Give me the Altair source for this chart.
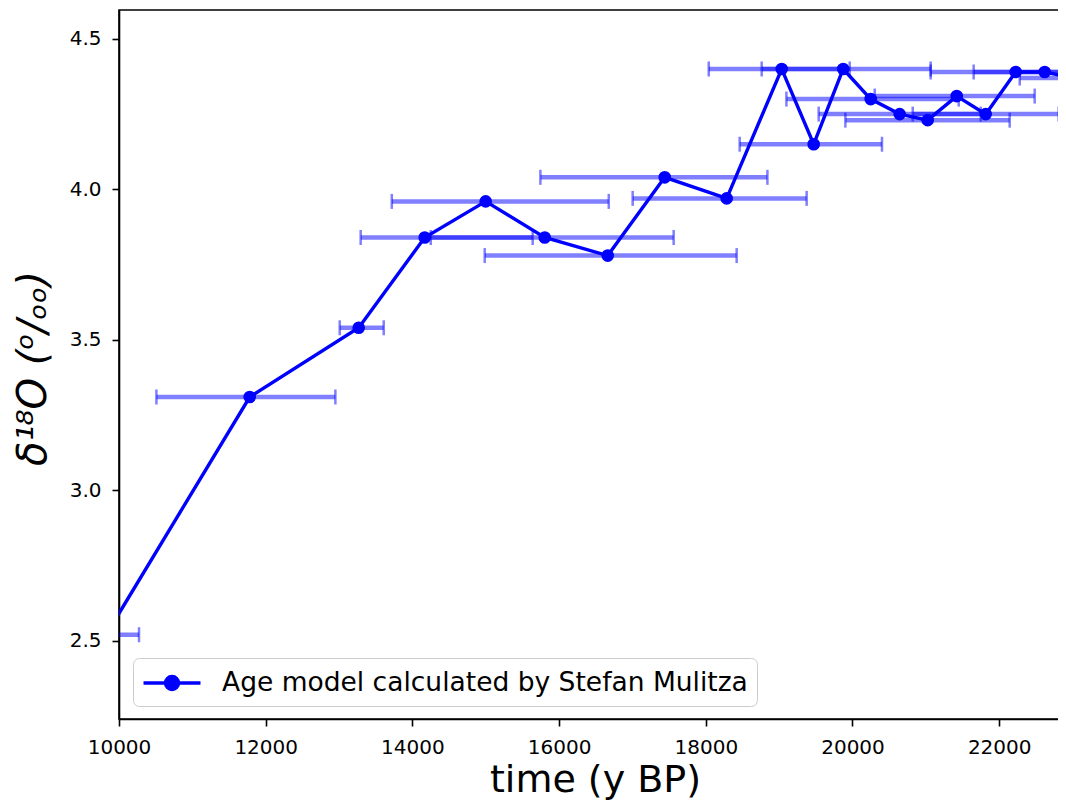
import altair as alt
import pandas as pd

# ---- data ----
ages = [9824, 11782, 13268, 14168, 14999, 15804, 16663, 17440, 18285, 19035,
        19471, 19873, 20248, 20643, 21025, 21421, 21816, 22225, 22620, 23015]
d18o = [2.52, 3.31, 3.54, 3.84, 3.96, 3.84, 3.78, 4.04, 3.97, 4.40,
        4.15, 4.40, 4.30, 4.25, 4.23, 4.31, 4.25, 4.39, 4.39, 4.37]
err_lo = [9381, 10510, 13009, 13295, 13719, 14250, 14986, 15745, 17003, 18040,
          18462, 18762, 19099, 19539, 19903, 20303, 20821, 21066, 21652, 22280]
err_hi = [10273, 12950, 13609, 15640, 16677, 17562, 18421, 18840, 19375, 19962,
          20402, 21066, 21448, 21748, 22143, 22484, 22811, 23384, 23589, 23750]
series_label = "Age model calculated by Stefan Mulitza"
x_ticks = [10000, 12000, 14000, 16000, 18000, 20000, 22000]
y_ticks = [2.5, 3.0, 3.5, 4.0, 4.5]
x_domain = [10000, 23088]
y_domain = [2.24, 4.596]

df = pd.DataFrame({"age": ages, "d18O": d18o, "lo": err_lo, "hi": err_hi,
                   "series": [series_label] * len(ages)})
caps = pd.DataFrame({"cap": err_lo + err_hi, "d18O": d18o + d18o})

FONT = "DejaVu Sans"
xscale = alt.Scale(domain=x_domain, nice=False, zero=False)
yscale = alt.Scale(domain=y_domain, nice=False, zero=False)

xaxis = alt.Axis(values=x_ticks, format="d", title="time (y BP)", labelFlush=False,
                 labelOverlap=False,
                 titleFontSize=38, titleFontWeight="normal", titleFont=FONT,
                 titleX=476, titleY=72, titleBaseline="alphabetic",
                 titleAnchor="start", titleAlign="center")
yaxis = alt.Axis(values=y_ticks, format=".1f", title="δ¹⁸O  (ᵒ/ₒₒ)", labelFlush=False,
                 titleFontSize=40, titleFontWeight="normal", titleFont=FONT,
                 titleFontStyle="italic", titleX=-86, titleY=358,
                 titleBaseline="middle", titleAlign="center", titleAngle=270)

bars = alt.Chart(df).mark_rule(clip=True, color="blue", opacity=0.5, strokeWidth=4.5).encode(
    x=alt.X("lo:Q", scale=xscale, axis=xaxis),
    x2="hi:Q",
    y=alt.Y("d18O:Q", scale=yscale, axis=yaxis),
)
cap_marks = alt.Chart(caps).mark_tick(clip=True, color="blue", opacity=0.5,
                                      orient="vertical", size=15, thickness=2.5).encode(
    x=alt.X("cap:Q", scale=xscale),
    y=alt.Y("d18O:Q", scale=yscale),
)

legend_symbol = ("M -2 0 L 2 0 M 0.456 0 A 0.456 0.456 0 1 1 -0.456 0 "
                 "A 0.456 0.456 0 1 1 0.456 0 Z")
line = alt.Chart(df).mark_line(clip=True, strokeWidth=3.4).encode(
    x=alt.X("age:Q", scale=xscale),
    y=alt.Y("d18O:Q", scale=yscale),
    color=alt.Color("series:N", scale=alt.Scale(range=["blue"]),
                    legend=alt.Legend(title=None, orient="none", legendX=14, legendY=648,
                                      symbolType=legend_symbol, symbolSize=812,
                                      symbolOffset=14, symbolStrokeWidth=3.4,
                                      symbolFillColor="blue", symbolStrokeColor="blue",
                                      symbolOpacity=1,
                                      labelFontSize=26.5, labelFont=FONT, labelColor="black",
                                      labelOffset=34, fillColor="white",
                                      strokeColor="#cccccc", cornerRadius=6, padding=9,
                                      labelLimit=1000)),
)
points = alt.Chart(df).mark_circle(clip=True, size=160, opacity=1, color="blue").encode(
    x=alt.X("age:Q", scale=xscale),
    y=alt.Y("d18O:Q", scale=yscale),
)

chart = alt.layer(bars, cap_marks, line, points).properties(
    width=960, height=709,
    autosize=alt.AutoSizeParams(type="none"),
    padding={"left": 111, "top": 2, "right": -21, "bottom": 81},
).configure_view(stroke="black", strokeWidth=1.6).configure_axis(
    grid=False, domainColor="black", domainWidth=1.6, tickColor="black",
    tickWidth=1.6, tickSize=7, labelFont=FONT, labelFontSize=20,
    labelColor="black", titleColor="black", labelPadding=11,
)

chart.save("out.html", embed_options={"renderer": "svg", "actions": False})
